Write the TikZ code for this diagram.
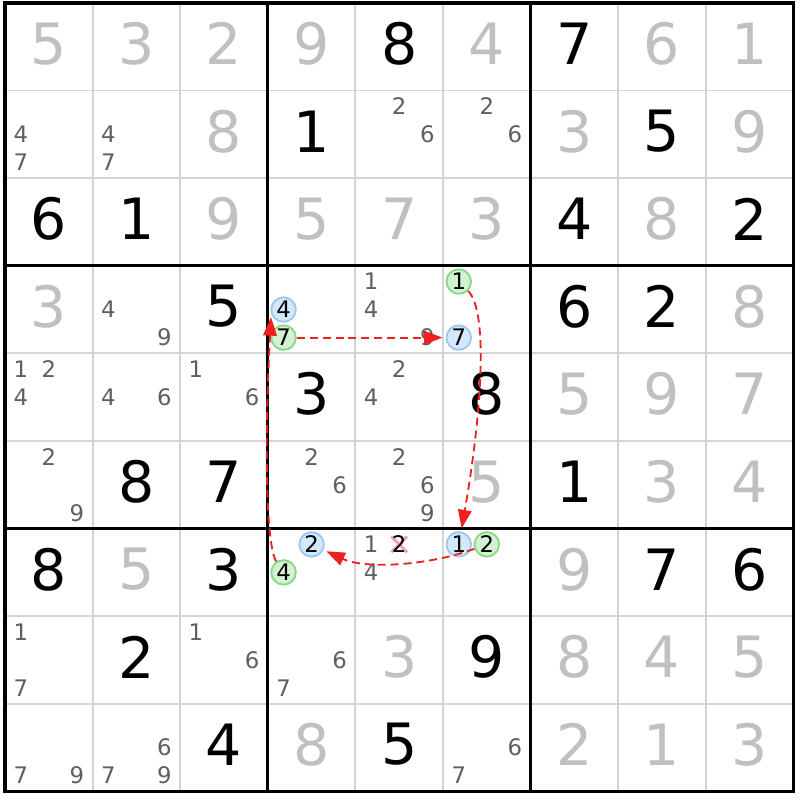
\documentclass[tikz,border=0pt]{standalone}
\usepackage{fontspec}
\setmainfont{DejaVu Sans}
\usepackage{tikz}
\usetikzlibrary{arrows.meta}

\definecolor{solvedgray}{HTML}{C0C0C0}
\definecolor{candgray}{HTML}{5F5F5F}
\definecolor{gridgray}{HTML}{D4D4D4}
\definecolor{bluefill}{HTML}{D4E8FC}
\definecolor{blueline}{HTML}{9CC8F0}
\definecolor{greenfill}{HTML}{D2F2D2}
\definecolor{greenline}{HTML}{88D888}
\definecolor{linkred}{HTML}{F02020}
\definecolor{crosspink}{HTML}{F4A0A8}

\begin{document}
\begin{tikzpicture}[>={Triangle[length=6pt,width=4.4pt]},
		given/.style={font=\fontsize{18.5}{18.5}\selectfont,inner sep=0pt,yshift=1pt},
		solved/.style={given,text=solvedgray},
		cand/.style={font=\fontsize{7.4}{7.4}\selectfont,inner sep=0pt,text=candgray},
		oncand/.style={circle,draw=blueline,fill=bluefill,line width=0.6pt,minimum size=0.28cm,inner sep=0pt,font=\fontsize{7.4}{7.4}\selectfont},
		offcand/.style={oncand,draw=greenline,fill=greenfill},
		thingrid/.style={gridgray,line width=0.6pt},
		boxline/.style={black,line width=1pt},
		link/.style={->,linkred,line width=0.6pt,dash pattern=on 2.6pt off 1.6pt,shorten >=1pt}]
	\fill[white] (-0.057,-0.098) rectangle (9.075,9.034);
	\useasboundingbox (-0.057,-0.098) rectangle (9.075,9.034);
	% grid
	\foreach \i in {1,2,4,5,7,8}
	{
		\draw[thingrid] (\i,0) -- (\i,9);
		\draw[thingrid] (0,\i) -- (9,\i);
	}
	\foreach \i in {3,6}
	{
		\draw[boxline] (\i,0) -- (\i,9);
		\draw[boxline] (0,\i) -- (9,\i);
	}
	\draw[boxline] (0,0) rectangle (9,9);
	% givens (column/row/digit)
	\foreach \c/\r/\d in {5/1/8,7/1/7,4/2/1,8/2/5,1/3/6,2/3/1,7/3/4,9/3/2,
			3/4/5,7/4/6,8/4/2,4/5/3,6/5/8,2/6/8,3/6/7,7/6/1,
			1/7/8,3/7/3,8/7/7,9/7/6,2/8/2,6/8/9,3/9/4,5/9/5}
		\node[given] (r\r-\c) at ({\c-0.5},{9.5-\r}) {\d};
	% solved cells
	\foreach \c/\r/\d in {1/1/5,2/1/3,3/1/2,4/1/9,6/1/4,8/1/6,9/1/1,3/2/8,7/2/3,9/2/9,
			3/3/9,4/3/5,5/3/7,6/3/3,8/3/8,1/4/3,9/4/8,7/5/5,8/5/9,9/5/7,
			6/6/5,8/6/3,9/6/4,2/7/5,7/7/9,5/8/3,7/8/8,8/8/4,9/8/5,
			4/9/8,7/9/2,8/9/1,9/9/3}
		\node[solved] (r\r-\c) at ({\c-0.5},{9.5-\r}) {\d};
	% candidates
	\foreach \c/\r/\d in {1/2/4,1/2/7,2/2/4,2/2/7,5/2/2,5/2/6,6/2/2,6/2/6,
			2/4/4,2/4/9,5/4/1,5/4/4,5/4/9,
			1/5/1,1/5/2,1/5/4,2/5/4,2/5/6,3/5/1,3/5/6,5/5/2,5/5/4,
			1/6/2,1/6/9,4/6/2,4/6/6,5/6/2,5/6/6,5/6/9,
			5/7/1,5/7/4,1/8/1,1/8/7,3/8/1,3/8/6,4/8/6,4/8/7,
			1/9/7,1/9/9,2/9/6,2/9/7,2/9/9,6/9/6,6/9/7}
		\node[cand] (r\r-\c-\d) at ({\c-0.5+0.32*(mod(\d-1,3)-1)},{9.5-\r-0.32*(floor((\d-1)/3)-1)}) {\d};
	% eliminated candidate
	\coordinate (x752) at (4.5,2.82);
	\draw[crosspink,line width=0.9pt] ([shift={(-0.09,0.09)}]x752) -- ([shift={(0.09,-0.09)}]x752);
	\draw[crosspink,line width=0.9pt] ([shift={(-0.09,-0.09)}]x752) -- ([shift={(0.09,0.09)}]x752);
	\node[cand,text=black] (r7-5-2) at (x752) {2};
	% chain
	\node[oncand] (r4-4-4) at (3.18,5.5) {4};
	\node[offcand] (r4-4-7) at (3.18,5.18) {7};
	\node[offcand] (r4-6-1) at (5.18,5.82) {1};
	\node[oncand] (r4-6-7) at (5.18,5.18) {7};
	\node[oncand] (r7-4-2) at (3.5,2.82) {2};
	\node[offcand] (r7-4-4) at (3.18,2.5) {4};
	\node[oncand] (r7-6-1) at (5.18,2.82) {1};
	\node[offcand] (r7-6-2) at (5.5,2.82) {2};
	\draw[link] (r4-4-7) -- (r4-6-7);
	\draw[link] (r4-6-1) .. controls +(-45:0.5) and +(80:1.4) .. (r7-6-1);
	\draw[link] (r7-6-2) to[out=-160,in=-25,looseness=0.8] (r7-4-2);
	\draw[link] (r7-4-4) .. controls +(-0.2,0.3) and +(-0.08,-1.5) .. (r4-4-4.200);
\end{tikzpicture}
\end{document}
